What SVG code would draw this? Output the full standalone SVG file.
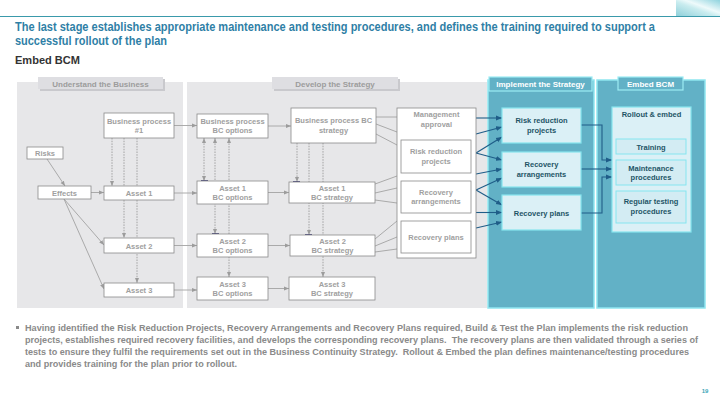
<svg xmlns="http://www.w3.org/2000/svg" width="720" height="405" viewBox="0 0 720 405">
<defs>
<linearGradient id="corner" x1="0" y1="1" x2="1" y2="0">
<stop offset="0" stop-color="#8fd0da"/><stop offset="0.45" stop-color="#c9ecef"/><stop offset="0.6" stop-color="#eefafb"/><stop offset="1" stop-color="#8fd3de"/>
</linearGradient>
<marker id="ag" viewBox="0 0 10 10" refX="10" refY="5" markerWidth="5" markerHeight="5" markerUnits="userSpaceOnUse" orient="auto-start-reverse"><path d="M0,1 L10,5 L0,9 z" fill="#9c9c9c"/></marker>
<marker id="ab" viewBox="0 0 10 10" refX="10" refY="5" markerWidth="6" markerHeight="6" markerUnits="userSpaceOnUse" orient="auto-start-reverse"><path d="M0,1 L10,5 L0,9 z" fill="#1f5d88"/></marker>
<style>
text{font-family:"Liberation Sans",Arial,sans-serif;font-weight:bold}
.title{font-size:12px;fill:#2f7fa6}
.sub{font-size:11px;fill:#333}
.body{font-size:8.5px;fill:#8a8a8a;white-space:pre}
.pg{fill:#e7e7e9}
.tabs{fill:#c9c9cd}
.tab{fill:#dedee2}
.tt{font-size:8px;fill:#9c9c9c;text-anchor:middle}
.nb{fill:#fff;stroke:#8a8a8a;stroke-width:0.8}
.nt{font-size:7.5px;fill:#a0a0a0;text-anchor:middle}
.tp{fill:#62b1c6;stroke:#8fe6f0;stroke-width:1.5}
.ttab{fill:#62b1c6;stroke:#9cecf4;stroke-width:1.2}
.tw{font-size:8px;fill:#fff;text-anchor:middle}
.ib{fill:#dbf0f6;stroke:#86e5ef;stroke-width:1.2}
.eb{fill:#d3ecf3;stroke:#86e5ef;stroke-width:1}
.it{font-size:7.5px;fill:#1e5566;text-anchor:middle}
.cg{stroke:#a3a3a3;stroke-width:0.9;fill:none}
.cgm{stroke:#a3a3a3;stroke-width:0.9;fill:none;marker-end:url(#ag)}
.cd{stroke:#9a9a9a;stroke-width:0.9;fill:none;stroke-dasharray:1.5 1.2;marker-end:url(#ag)}
.cdd{stroke:#9a9a9a;stroke-width:0.9;fill:none;stroke-dasharray:1.5 1.2;marker-end:url(#ag);marker-start:url(#ag)}
.cb{stroke:#1f5d88;stroke-width:1.1;fill:none;marker-end:url(#ab)}
.nv{stroke:#1b1b5e;stroke-width:1.6}
</style>
</defs>
<rect width="720" height="405" fill="#fff"/>
<rect x="676" y="0" width="44" height="16" fill="url(#corner)"/>
<line x1="0" y1="16.5" x2="720" y2="16.5" stroke="#3a9aab" stroke-width="1.2"/>
<text class="title" x="15" y="31" textLength="640" lengthAdjust="spacingAndGlyphs">The last stage establishes appropriate maintenance and testing procedures, and defines the training required to support a</text>
<text class="title" x="15" y="45" textLength="152" lengthAdjust="spacingAndGlyphs">successful rollout of the plan</text>
<text class="sub" x="15" y="64" textLength="65" lengthAdjust="spacingAndGlyphs">Embed BCM</text>

<!-- panels -->
<g id="panel-understand">
<rect class="pg" x="17" y="82" width="166" height="226"/>
<rect class="tabs" x="40" y="79" width="125" height="12"/>
<rect class="tab" x="38" y="77" width="125" height="12"/>
<text class="tt" x="100.5" y="86.5">Understand the Business</text>
</g>
<g id="panel-develop">
<rect class="pg" x="187" y="82" width="300" height="226"/>
<rect class="tabs" x="274" y="79" width="126" height="12"/>
<rect class="tab" x="272" y="77" width="126" height="12"/>
<text class="tt" x="335" y="86.5">Develop the Strategy</text>
</g>
<g id="panel-implement">
<rect class="tp" x="488" y="80" width="106" height="228"/>
<rect class="ttab" x="489" y="77" width="103" height="14"/>
<text class="tw" x="540.5" y="87">Implement the Strategy</text>
</g>
<g id="panel-embed">
<rect class="tp" x="597" y="80" width="108" height="228"/>
<rect class="ttab" x="618" y="77" width="65" height="13"/>
<text class="tw" x="650.5" y="86.5">Embed BCM</text>
</g>

<!-- connectors -->
<g id="connectors">
<path class="cgm" d="M47,159 L65,186"/>
<path class="cgm" d="M91,192.5 H104"/>
<path class="cgm" d="M64,199 L104,245"/>
<path class="cgm" d="M64,199 L104,289"/>
<path class="cd" d="M112,138 V186"/>
<path class="cd" d="M124,138 V238"/>
<path class="cd" d="M137,138 V283"/>
<path class="cgm" d="M174,125.5 H197"/>
<path class="cgm" d="M174,193 H197"/>
<path class="cgm" d="M174,245.5 H197"/>
<path class="cgm" d="M174,290 H197"/>
<path class="cgm" d="M268,126 H291"/>
<path class="cgm" d="M268,192.5 H289"/>
<path class="cgm" d="M268,245.5 H290"/>
<path class="cgm" d="M268,288.5 H289"/>
<path class="cdd" d="M204,138 V181"/>
<path class="cdd" d="M215,138 V234"/>
<path class="cdd" d="M229,138 V277"/>
<path class="cd" d="M297,143 V182"/>
<path class="cd" d="M309,143 V235"/>
<path class="cd" d="M323,143 V277"/>
<path class="nv" d="M201,181 h7 M212,234 h7 M293,182 h7 M305,235 h7"/>
<path class="cg" d="M376,117 H397 M376,124 L397,132 M376,134 L397,145 M375,184 L397,176 M375,193 L397,188 M375,200 L397,203 M375,239 L397,221 M375,246 L397,237 M375,252 L397,249"/>
<path class="cb" d="M476,118 H502"/>
<path class="cb" d="M476,134 L502,127"/>
<path class="cb" d="M476,153 L502,137"/>
<path class="cb" d="M476,153 L502,160"/>
<path class="cb" d="M476,174 L502,169"/>
<path class="cb" d="M476,190 L502,178"/>
<path class="cb" d="M476,190 L502,205"/>
<path class="cb" d="M476,212.5 H502"/>
<path class="cb" d="M476,228 L502,222"/>
<path class="cb" d="M581,125 H602 V160 H612"/>
<path class="cb" d="M581,169 H612"/>
<path class="cb" d="M581,213 H602 V177 H612"/>
</g>

<!-- understand nodes -->
<g id="risks"><rect class="nb" x="27" y="147" width="36" height="12"/><text class="nt" x="45" y="156">Risks</text></g>
<g id="effects"><rect class="nb" x="38" y="186" width="53" height="13"/><text class="nt" x="64.5" y="195.5">Effects</text></g>
<g id="bp1"><rect class="nb" x="104" y="113" width="70" height="25"/><text class="nt" x="139" y="123.5">Business process</text><text class="nt" x="139" y="133">#1</text></g>
<g id="asset1"><rect class="nb" x="104" y="186" width="70" height="14"/><text class="nt" x="139" y="196">Asset 1</text></g>
<g id="asset2"><rect class="nb" x="104" y="238" width="70" height="15"/><text class="nt" x="139" y="248.5">Asset 2</text></g>
<g id="asset3"><rect class="nb" x="104" y="283" width="70" height="14"/><text class="nt" x="139" y="293">Asset 3</text></g>

<!-- options -->
<g id="bp-options"><rect class="nb" x="197" y="114" width="71" height="24"/><text class="nt" x="232.5" y="123.5">Business process</text><text class="nt" x="232.5" y="133">BC options</text></g>
<g id="a1-options"><rect class="nb" x="197" y="181" width="71" height="23"/><text class="nt" x="232.5" y="190.5">Asset 1</text><text class="nt" x="232.5" y="200">BC options</text></g>
<g id="a2-options"><rect class="nb" x="197" y="234" width="71" height="23"/><text class="nt" x="232.5" y="243.5">Asset 2</text><text class="nt" x="232.5" y="253">BC options</text></g>
<g id="a3-options"><rect class="nb" x="197" y="277" width="71" height="23"/><text class="nt" x="232.5" y="286.5">Asset 3</text><text class="nt" x="232.5" y="296">BC options</text></g>

<!-- strategy -->
<g id="bp-strategy"><rect class="nb" x="291" y="108" width="85" height="35"/><text class="nt" x="333.5" y="123">Business process BC</text><text class="nt" x="333.5" y="133">strategy</text></g>
<g id="a1-strategy"><rect class="nb" x="289" y="182" width="86" height="21"/><text class="nt" x="332" y="190.5">Asset 1</text><text class="nt" x="332" y="200">BC strategy</text></g>
<g id="a2-strategy"><rect class="nb" x="290" y="235" width="85" height="21"/><text class="nt" x="332.5" y="243.5">Asset 2</text><text class="nt" x="332.5" y="253">BC strategy</text></g>
<g id="a3-strategy"><rect class="nb" x="289" y="277" width="86" height="23"/><text class="nt" x="332" y="286.5">Asset 3</text><text class="nt" x="332" y="296">BC strategy</text></g>

<!-- management -->
<g id="management"><rect class="nb" x="397" y="108" width="79" height="150"/><text class="nt" x="436.5" y="117">Management</text><text class="nt" x="436.5" y="126.5">approval</text></g>
<g id="m-risk"><rect class="nb" x="401" y="140" width="70" height="33"/><text class="nt" x="436" y="154">Risk reduction</text><text class="nt" x="436" y="163.5">projects</text></g>
<g id="m-arr"><rect class="nb" x="401" y="181" width="70" height="32"/><text class="nt" x="436" y="194.5">Recovery</text><text class="nt" x="436" y="204">arrangements</text></g>
<g id="m-plans"><rect class="nb" x="401" y="221" width="70" height="32"/><text class="nt" x="436" y="240">Recovery plans</text></g>

<!-- implement -->
<g id="i-risk"><rect class="ib" x="502" y="108" width="79" height="35"/><text class="it" x="541.5" y="123">Risk reduction</text><text class="it" x="541.5" y="132.5">projects</text></g>
<g id="i-arr"><rect class="ib" x="502" y="152" width="79" height="35"/><text class="it" x="541.5" y="167">Recovery</text><text class="it" x="541.5" y="176.5">arrangements</text></g>
<g id="i-plans"><rect class="ib" x="502" y="195" width="79" height="35"/><text class="it" x="541.5" y="215.5">Recovery plans</text></g>

<!-- embed -->
<g id="rollout"><rect class="ib" x="612" y="107" width="79" height="125"/><text class="it" x="651.5" y="117">Rollout &amp; embed</text></g>
<g id="training"><rect class="eb" x="616" y="139" width="70" height="15"/><text class="it" x="651" y="149.5">Training</text></g>
<g id="maintenance"><rect class="eb" x="616" y="160" width="70" height="25"/><text class="it" x="651" y="170.5">Maintenance</text><text class="it" x="651" y="180">procedures</text></g>
<g id="testing"><rect class="eb" x="616" y="191" width="70" height="32"/><text class="it" x="651" y="204">Regular testing</text><text class="it" x="651" y="213.5">procedures</text></g>

<!-- body text -->
<rect x="16" y="326" width="3" height="3" fill="#8a8a8a"/>
<text class="body" x="25" y="331" textLength="663" lengthAdjust="spacingAndGlyphs">Having identified the Risk Reduction Projects, Recovery Arrangements and Recovery Plans required, Build &amp; Test the Plan implements the risk reduction</text>
<text class="body" x="25" y="343" textLength="673" lengthAdjust="spacingAndGlyphs">projects, establishes required recovery facilities, and develops the corresponding recovery plans.  The recovery plans are then validated through a series of</text>
<text class="body" x="25" y="355" textLength="664" lengthAdjust="spacingAndGlyphs">tests to ensure they fulfil the requirements set out in the Business Continuity Strategy.  Rollout &amp; Embed the plan defines maintenance/testing procedures</text>
<text class="body" x="25" y="367" textLength="212" lengthAdjust="spacingAndGlyphs">and provides training for the plan prior to rollout.</text>
<text x="705" y="393" font-size="6" fill="#3aa6b8" text-anchor="middle">19</text>
</svg>
